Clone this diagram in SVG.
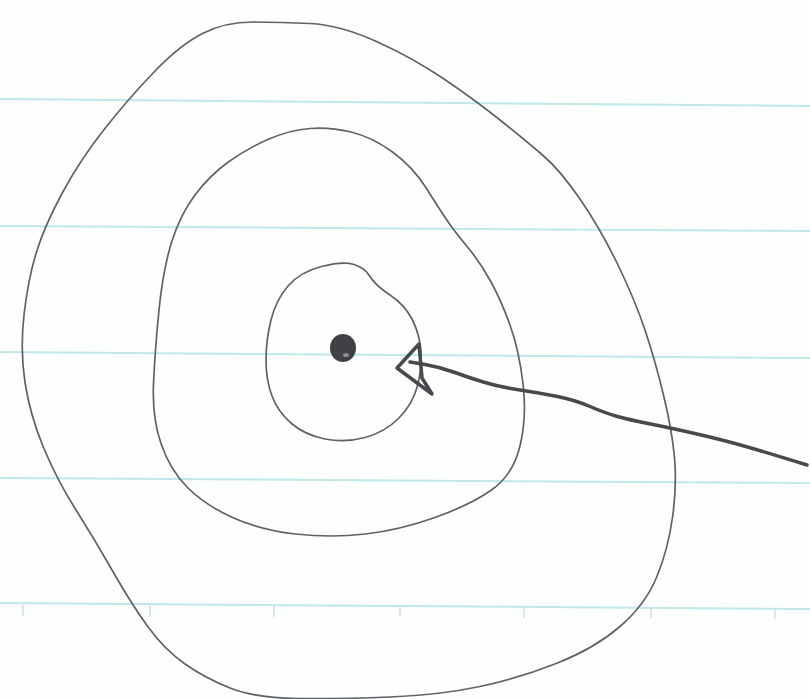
<svg xmlns="http://www.w3.org/2000/svg" width="810" height="699" viewBox="0 0 810 699">
<style>
.rule{stroke:#bfe8ea;stroke-width:2;fill:none}
.tick{stroke:#c9d6d8;stroke-width:1.2}
.ring{fill:none;stroke:#5f6266;stroke-width:1.7;stroke-linejoin:round}
.arrow{fill:none;stroke:#47494d;stroke-width:3.5;stroke-linecap:round;stroke-linejoin:round}
</style>
<rect width="810" height="699" fill="#fdfefe"/>
<g id="paper">
<line class="rule" x1="0" y1="99" x2="810" y2="106"/>
<line class="rule" x1="0" y1="226" x2="810" y2="231"/>
<line class="rule" x1="0" y1="352" x2="810" y2="358"/>
<line class="rule" x1="0" y1="478" x2="810" y2="483"/>
<line class="rule" x1="0" y1="603" x2="810" y2="609" stroke="#9fe3e6"/>
<line class="tick" x1="23" y1="605" x2="23" y2="616"/>
<line class="tick" x1="150" y1="606" x2="150" y2="617"/>
<line class="tick" x1="274" y1="606" x2="274" y2="617"/>
<line class="tick" x1="400" y1="607" x2="400" y2="617"/>
<line class="tick" x1="524" y1="607" x2="524" y2="618"/>
<line class="tick" x1="651" y1="608" x2="651" y2="618"/>
<line class="tick" x1="775" y1="608" x2="775" y2="619"/>
</g>
<g id="outer-ring">
<path class="ring" d="M310,23.5 Q340,25 376.5,41.5 Q413,58 444,79 Q475,100 500,120 Q525,140 542.5,155 Q560,170 580,199 Q600,228 617.5,264 Q635,300 645,330 Q655,360 663.5,395 Q672,430 674.5,457.5 Q677,485 672.5,517.5 Q668,550 656.5,577.5 Q645,605 620,626.5 Q595,648 557.5,663 Q520,678 480,686.5 Q440,695 390,697 Q340,699 297.5,698.5 Q255,698 230,688 Q205,678 185,664 Q165,650 148.5,627.5 Q132,605 113.5,572.5 Q95,540 76,510 Q57,480 43.5,447.5 Q30,415 25,382.5 Q20,350 24,315 Q28,280 36,253.5 Q44,227 62,193.5 Q80,160 104.5,129 Q129,98 154.5,71.5 Q180,45 202.5,33.5 Q225,22 252.5,22 Q280,22 310,23.5 Z"/>
</g>
<g id="middle-ring">
<path class="ring" d="M351,132 Q372,137 392.5,152 Q413,167 426.5,188.5 Q440,210 447.5,221 Q455,232 467.5,247 Q480,262 490.5,281 Q501,300 510,325 Q519,350 523,383.5 Q527,417 520,446 Q513,475 491.5,490 Q470,505 435,517.5 Q400,530 365.5,534 Q331,538 295.5,534 Q260,530 232.5,517.5 Q205,505 187.5,487.5 Q170,470 161,443.5 Q152,417 153.5,383.5 Q155,350 159,310 Q163,270 171.5,242.5 Q180,215 195,195 Q210,175 229,161.5 Q248,148 269,139 Q290,130 310,128.5 Q330,127 351,132 Z"/>
</g>
<g id="inner-ring">
<path class="ring" d="M354,264.5 Q365,268 370,276.5 Q375,285 390,295 Q405,305 412.5,320 Q420,335 421,352.5 Q422,370 417,387.5 Q412,405 398.5,418.5 Q385,432 365,437.5 Q345,443 325,439 Q305,435 291.5,423.5 Q278,412 272,396 Q266,380 266,360 Q266,340 271,320 Q276,300 288,286 Q300,272 321.5,266.5 Q343,261 354,264.5 Z"/>
</g>
<g id="center-dot">
<ellipse cx="343" cy="348" rx="13" ry="14" fill="#3f4145"/>
<ellipse cx="346" cy="355" rx="3" ry="2" fill="#8a8c90"/>
</g>
<g id="connectors">
<path class="arrow" d="M410,362 L425,364.5 Q440,367 455,372.5 Q470,378 485,382.5 Q500,387 520,390 Q540,393 557.5,396.5 Q575,400 590,406.5 Q605,413 617.5,416.5 Q630,420 650.5,424 Q671,428 697,434 Q723,440 744,446 Q765,452 807,465"/>
<path class="arrow" d="M432,394 L397,368 L419,344 L422,378 L432,394"/>
</g>
</svg>
